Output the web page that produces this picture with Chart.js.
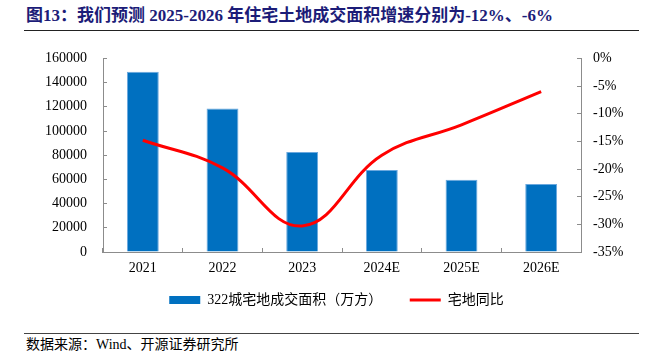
<!DOCTYPE html>
<html>
<head>
<meta charset="utf-8">
<script src="https://cdn.jsdelivr.net/npm/chart.js@4/dist/chart.umd.min.js"></script>
<style>
  html, body { margin: 0; padding: 0; background: #fff; }
  body { width: 651px; height: 362px; position: relative; overflow: hidden; }
  #title { position: absolute; left: 26px; top: 6px; font: bold 17px "Liberation Serif", "Noto Sans CJK SC", serif; color: #1c1c78; line-height: 20px; white-space: nowrap; }
  #tline { position: absolute; left: 24px; top: 30px; width: 615px; border-top: 1.5px solid #222; }
  #fline { position: absolute; left: 24px; top: 333px; width: 615px; border-top: 1px solid #444; }
  #source { position: absolute; left: 26px; top: 336px; font: 14px "Liberation Serif", "Noto Sans CJK SC", serif; color: #000; line-height: 18px; white-space: nowrap; }
  #c { position: absolute; left: 0; top: 30px; }
</style>
</head>
<body>
<div id="title">图13：我们预测 2025-2026 年住宅土地成交面积增速分别为-12%、-6%</div>
<div id="tline"></div>
<canvas id="c" width="651" height="287"></canvas>
<div id="fline"></div>
<div id="source">数据来源：Wind、开源证券研究所</div>
<script>
const categories = ['2021', '2022', '2023', '2024E', '2025E', '2026E'];
const areaValues = [149000, 118500, 82700, 67800, 59800, 56300];
const yoyValues = [-14.8, -19.8, -30.3, -17.5, -12, -6];
const areaLabel = '322城宅地成交面积（万方）';
const yoyLabel = '宅地同比';
const leftTicks = { min: 0, max: 160000, step: 20000 };
const rightTicks = { min: -35, max: 0, step: 5 };

const FONT = '"Liberation Serif", "Noto Sans CJK SC", serif';
const AXIS = '#8c8c8c';
const LEFT_PAD = 22;

new Chart(document.getElementById('c'), {
  data: {
    labels: categories,
    datasets: [
      {
        type: 'line', label: yoyLabel, data: yoyValues, yAxisID: 'y1',
        borderColor: '#ff0000', backgroundColor: '#ff0000', borderWidth: 3,
        pointRadius: 0, tension: 0.4, order: 0
      },
      {
        type: 'bar', label: areaLabel, data: areaValues, yAxisID: 'y',
        backgroundColor: '#0070c0', borderColor: '#6aa8de', borderWidth: 1,
        barPercentage: 0.4, categoryPercentage: 1, order: 1
      }
    ]
  },
  options: {
    responsive: false, devicePixelRatio: 1, animation: false,
    layout: { padding: { left: LEFT_PAD, right: 0, top: 0, bottom: 0 } },
    plugins: {
      tooltip: { enabled: false },
      legend: {
        position: 'bottom',
        labels: {
          font: { family: FONT, size: 14 }, color: '#000',
          usePointStyle: true, pointStyleWidth: 31, boxHeight: 8, padding: 10,
          generateLabels: (chart) => {
            const ds = chart.data.datasets;
            return [
              { text: ds[1].label + '\u3000   ', fillStyle: '#0070c0', strokeStyle: '#0070c0', lineWidth: 0, pointStyle: 'rect', datasetIndex: 1, fontColor: '#000' },
              { text: ds[0].label, fillStyle: '#ff0000', strokeStyle: '#ff0000', lineWidth: 3, pointStyle: 'line', datasetIndex: 0, fontColor: '#000' }
            ];
          }
        }
      }
    },
    scales: {
      x: {
        grid: { drawOnChartArea: false, drawTicks: true, tickLength: -4, color: AXIS, offset: true },
        border: { color: AXIS, width: 1 },
        ticks: { font: { family: FONT, size: 14 }, color: '#000', padding: 12 },
        afterFit: (s) => { s.height = 31; }
      },
      y: {
        position: 'left', min: leftTicks.min, max: leftTicks.max,
        grid: { drawOnChartArea: false, drawTicks: true, tickLength: -4, color: AXIS },
        border: { color: AXIS, width: 1 },
        ticks: { stepSize: leftTicks.step, font: { family: FONT, size: 14 }, color: '#000', padding: 20,
          callback: (v) => String(v) },
        afterFit: (s) => { s.width = 103 - LEFT_PAD; }
      },
      y1: {
        position: 'right', min: rightTicks.min, max: rightTicks.max,
        grid: { drawOnChartArea: false, drawTicks: true, tickLength: -4, color: AXIS },
        border: { color: AXIS, width: 1 },
        ticks: { stepSize: rightTicks.step, font: { family: FONT, size: 14 }, color: '#000', padding: 16,
          callback: (v) => v + '%' },
        afterFit: (s) => { s.width = 70; }
      }
    }
  }
});
</script>
</body>
</html>
